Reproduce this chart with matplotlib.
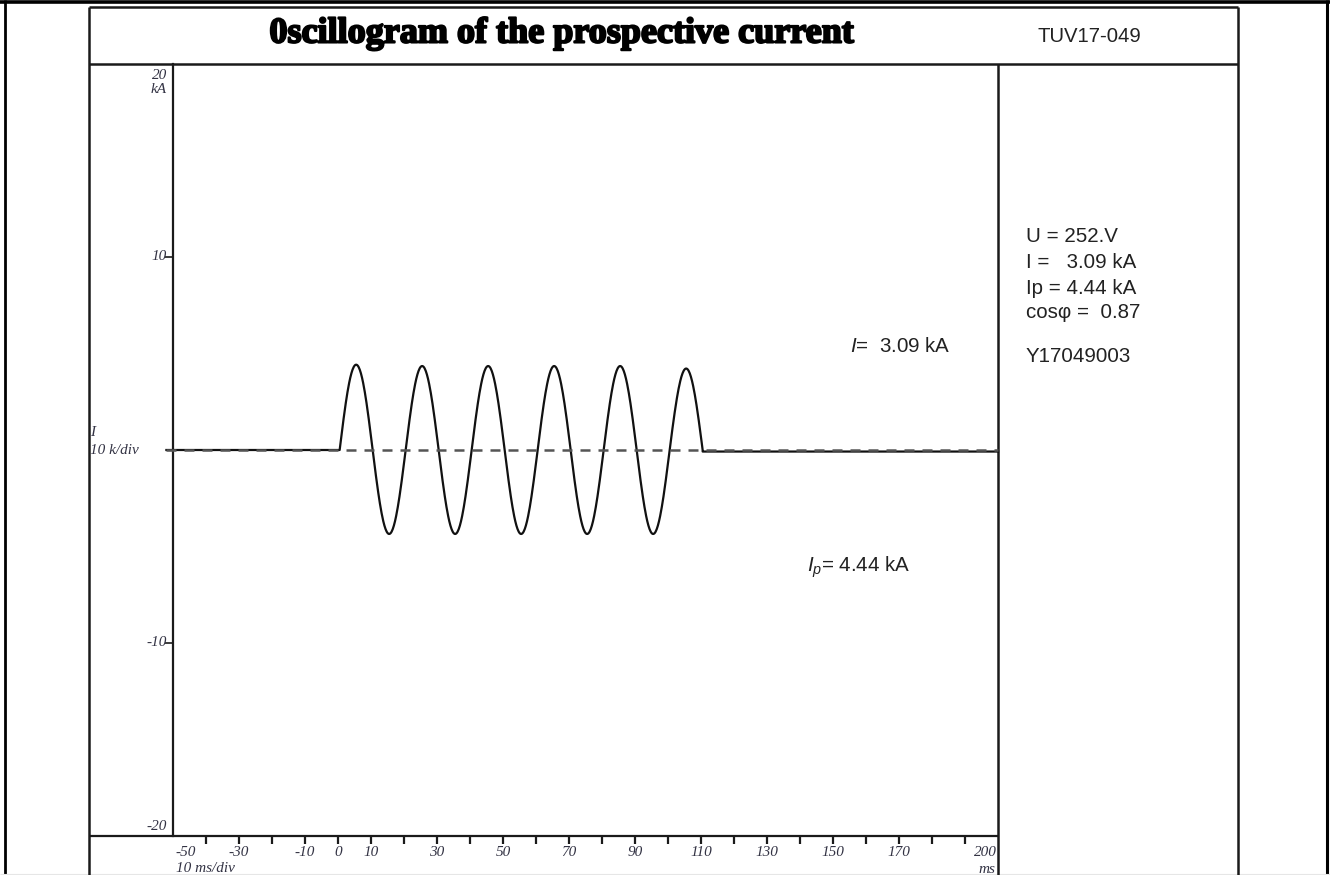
import numpy as np
import matplotlib
matplotlib.use("Agg")
import matplotlib.pyplot as plt
from matplotlib.lines import Line2D
import matplotlib.patheffects as pe

# ---------------- data ----------------
title = "0scillogram of the prospective current"
report_id = "TUV17-049"
info_lines = ["U = 252.V", "I =   3.09 kA", "Ip = 4.44 kA", "cos\u03c6 =  0.87", "", "Y17049003"]
x_tick_positions = [-50, -40, -30, -20, -10, 0, 10, 20, 30, 40, 50, 60, 70, 80, 90, 100,
                    110, 120, 130, 140, 150, 160, 170, 180, 190, 200]
x_tick_labels = ["-50", "", "-30", "", "-10", "0", "10", "", "30", "", "50", "", "70", "",
                 "90", "", "110", "", "130", "", "150", "", "170", "", "", "200"]
y_tick_values = [20, 10, -10, -20]
y_tick_labels = ["20", "10", "-10", "-20"]
# half-cycle peak values (kA), alternating sign
half_cycle_peaks = [4.42, -4.35, 4.35, -4.35, 4.35, -4.35, 4.35, -4.35, 4.35, -4.35, 4.22]
current_start_ms = 0.5
half_period_ms = 10.0
rms_text = "3.09 kA"
peak_text = "4.44 kA"

FIG_W, FIG_H = 1330, 875
fig = plt.figure(figsize=(FIG_W / 100, FIG_H / 100), dpi=100)
fig.patch.set_facecolor("white")

def fx(px):
    return px / FIG_W

def fy(py):
    return 1 - py / FIG_H

# ---------------- frame overlay (pixel coordinates) ----------------
ov = fig.add_axes([0, 0, 1, 1])
ov.set_xlim(0, FIG_W)
ov.set_ylim(FIG_H, 0)
ov.axis("off")
ov.set_zorder(0)

def seg(x0, y0, x1, y1, lw=1.6, c="#1a1a1a"):
    ov.add_line(Line2D([x0, x1], [y0, y1], lw=lw, color=c, solid_capstyle="butt"))

seg(0, 1.5, FIG_W, 1.5, lw=2.6, c="black")      # top page edge
seg(5, 0, 5, FIG_H, lw=2.0, c="black")          # left page edge
seg(1327, 0, 1327, FIG_H, lw=2.2, c="black")    # right page edge
seg(0, 873.5, FIG_W, 873.5, lw=0.8, c="#e6e6e6")
seg(89, 7, 1238, 7, lw=1.8)                     # inner frame top
seg(89, 7, 89, FIG_H, lw=1.8)                   # inner left
seg(1238, 7, 1238, FIG_H, lw=1.8)               # inner right
seg(89, 64, 1238, 64, lw=1.8)                   # title divider
seg(998, 64, 998, FIG_H, lw=1.8)                # plot right / panel divider
seg(89, 835.5, 998, 835.5, lw=1.6)              # x axis line across

# title
ov.text(562, 34, title, ha="center", va="center", fontsize=26,
        family="Liberation Serif", fontweight="bold", color="black",
        path_effects=[pe.withStroke(linewidth=1.5, foreground="black")])
ov.text(1089, 37, report_id, ha="center", va="center", fontsize=14.6,
        family="Liberation Sans", color="#222222")

# right info panel
info_y = [237, 263, 288, 313, 338, 357]
for txt, yy in zip(info_lines, info_y):
    if txt:
        ov.text(1026, yy, txt, ha="left", va="center", fontsize=14.8,
                family="Liberation Sans", color="#222222")

# ---------------- plot axes ----------------
L, R, T, B = 173, 998, 64, 836
ax = fig.add_axes([fx(L), fy(B), fx(R) - fx(L), fy(T) - fy(B)])
ax.set_zorder(2)
ax.patch.set_alpha(0)
ax.set_xlim(-50, 200)
ax.set_ylim(-20, 20)
for s in ["top", "right"]:
    ax.spines[s].set_visible(False)
ax.spines["left"].set_linewidth(1.6)
ax.spines["left"].set_color("#1a1a1a")
ax.spines["bottom"].set_visible(False)

# x ticks
ax.set_xticks(x_tick_positions)
ax.set_xticklabels([])
ax.tick_params(axis="x", direction="out", length=6, width=1.6, color="#1a1a1a",
               bottom=True)
ticks = ax.xaxis.get_major_ticks()
ticks[0].tick1line.set_visible(False)
ticks[-1].tick1line.set_visible(False)

lab_font = dict(family="Liberation Serif", style="italic", fontsize=11, color="#333344")
xt = ax.get_xaxis_transform()
for pos, lab in zip(x_tick_positions, x_tick_labels):
    if not lab:
        continue
    ha = "center"
    xpos = pos
    if pos == x_tick_positions[0]:
        ha = "left"
        xpos = pos + 0.8
    elif pos == x_tick_positions[-1]:
        ha = "right"
        xpos = pos - 0.3
    ax.text(xpos, -0.021, lab, transform=xt, ha=ha, va="center", **lab_font)
ax.text(-49.1, -0.042, "10 ms/div", transform=xt, ha="left", va="center", **lab_font)
ax.text(200 - 0.8, -0.043, "ms", transform=xt, ha="right", va="center", **lab_font)

# y ticks
ax.set_yticks([v for v in y_tick_values if abs(v) < 20])
ax.set_yticklabels([])
ax.tick_params(axis="y", direction="out", length=5.5, width=1.2, color="#1a1a1a")
yt = ax.get_yaxis_transform()
y_offsets = {20: -0.6, -20: 0.5}
for v, lab in zip(y_tick_values, y_tick_labels):
    ypos = v + y_offsets.get(v, 0)
    ax.text(-0.0075, ypos, lab, transform=yt, ha="right", va="center", **lab_font)
ax.text(-0.0075, 18.7, "kA", transform=yt, ha="right", va="center", **lab_font)
ax.text(-0.1, 0.9, "I", transform=yt, ha="left", va="center", **lab_font)
ax.text(-0.1, 0.0, "10 k/div", transform=yt, ha="left", va="center", **lab_font)

# ---------------- waveform ----------------
seg_t = [np.array([-52.0, current_start_ms])]
seg_i = [np.zeros(2)]
for k, pk in enumerate(half_cycle_peaks):
    t0 = current_start_ms + k * half_period_ms
    tt = np.linspace(t0, t0 + half_period_ms, 60)
    seg_t.append(tt)
    seg_i.append(pk * np.sin(np.pi * (tt - t0) / half_period_ms))
end_t = current_start_ms + len(half_cycle_peaks) * half_period_ms
seg_t.append(np.array([end_t, 200.0]))
seg_i.append(np.array([-0.08, -0.08]))
t_all = np.concatenate(seg_t)
i_all = np.concatenate(seg_i)
ax.plot(t_all, i_all, color="#111111", lw=1.6, clip_on=False, zorder=3)
ax.plot([-52, 200], [0, 0], color="#555555", lw=1.8, ls=(0, (4, 3.2)), clip_on=False, zorder=4)

# annotations inside the plot
plt.rcParams["mathtext.fontset"] = "custom"
plt.rcParams["mathtext.it"] = "Liberation Sans:italic"
plt.rcParams["mathtext.rm"] = "Liberation Sans"
ax.text(155.3, 5.35, r"$I$=  " + rms_text, ha="left", va="center", fontsize=14.8,
        family="Liberation Sans", color="#222222")
ax.text(142.2, -6.1, r"$I_p$= " + peak_text, ha="left", va="center", fontsize=14.8,
        family="Liberation Sans", color="#222222")

fig.savefig("out.png", dpi=100)
